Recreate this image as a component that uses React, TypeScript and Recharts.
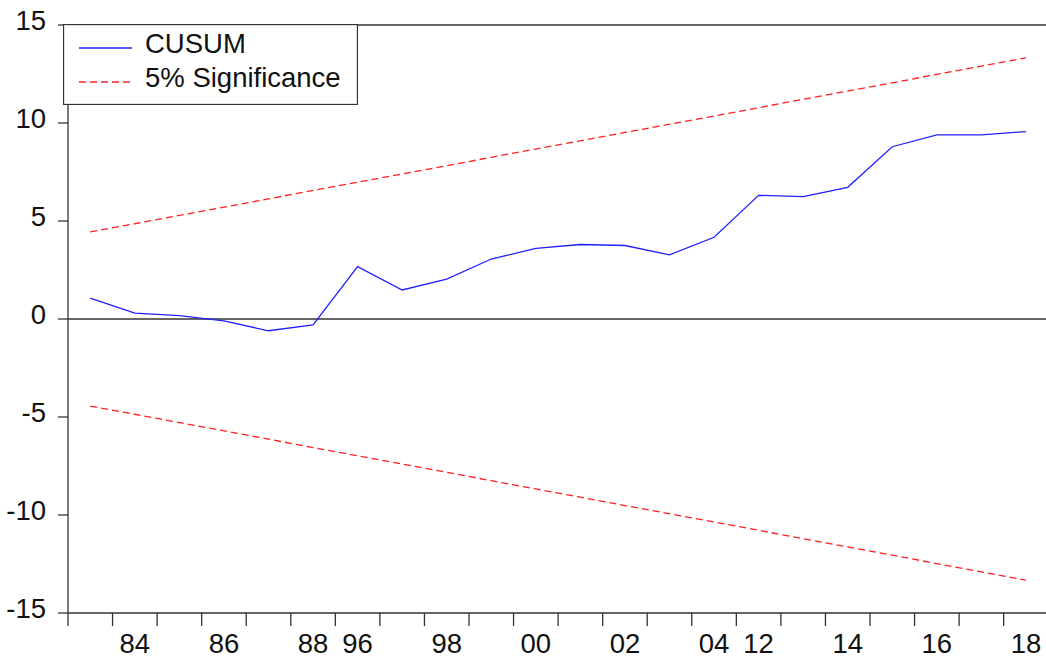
import { LineChart, Line, XAxis, YAxis, ReferenceLine, Legend } from 'recharts';

const years = ['83', '84', '85', '86', '87', '88', '96', '97', '98', '99', '00', '01', '02', '03', '04', '12', '13', '14', '15', '16', '17', '18'];
const cusum = [1.07, 0.3, 0.17, -0.1, -0.6, -0.3, 2.67, 1.48, 2.04, 3.06, 3.6, 3.8, 3.75, 3.27, 4.17, 6.31, 6.24, 6.72, 8.79, 9.39, 9.39, 9.56];
const upper = [4.44, 4.86, 5.29, 5.71, 6.13, 6.56, 6.98, 7.4, 7.82, 8.25, 8.67, 9.09, 9.52, 9.94, 10.36, 10.78, 11.21, 11.63, 12.05, 12.48, 12.9, 13.32];
const lower = [-4.44, -4.86, -5.29, -5.71, -6.13, -6.56, -6.98, -7.4, -7.82, -8.25, -8.67, -9.09, -9.52, -9.94, -10.36, -10.78, -11.21, -11.63, -12.05, -12.48, -12.9, -13.32];
const labelYears = ['84', '86', '88', '96', '98', '00', '02', '04', '12', '14', '16', '18'];
const yTicks = [-15, -10, -5, 0, 5, 10, 15];

const data = years.map((y, i) => ({ i, year: y, cusum: cusum[i], upper: upper[i], lower: lower[i] }));
const labelIdx = labelYears.map(y => years.indexOf(y));
const boundaries = years.map((_, i) => i - 0.5);
const xTicks = [...boundaries, ...labelIdx];

const FONT = '"Liberation Sans", Arial, sans-serif';
const FS = 27.5;
const AXIS = '#333';
const BLUE = '#2020ff';
const RED = '#ff2020';

function XTick(props: any) {
  const { x, y, payload } = props;
  const v = payload.value;
  if (!Number.isInteger(v)) {
    return <line x1={x} x2={x} y1={y} y2={y + 13} stroke={AXIS} strokeWidth={1.3} />;
  }
  return (
    <text x={x} y={y + 30} textAnchor="middle" dominantBaseline="central" fontSize={FS} fontFamily={FONT} fill="#111">
      {years[v]}
    </text>
  );
}

function YTick(props: any) {
  const { x, y, payload } = props;
  return (
    <text x={x} y={y - 5} textAnchor="end" dominantBaseline="central" fontSize={FS} fontFamily={FONT} fill="#111">
      {payload.value}
    </text>
  );
}

function LegendBox() {
  return (
    <svg width={295} height={81} style={{ display: 'block' }}>
      <rect x={0.5} y={0.5} width={294} height={80} fill="#fff" stroke={AXIS} strokeWidth={1.3} />
      <line x1={16} x2={69} y1={24} y2={24} stroke={BLUE} strokeWidth={1.3} />
      <text x={82} y={19} dominantBaseline="central" fontSize={FS} fontFamily={FONT} fill="#111">CUSUM</text>
      <line x1={16} x2={69} y1={58} y2={58} stroke={RED} strokeWidth={1.3} strokeDasharray="7 4" />
      <text x={82} y={53} dominantBaseline="central" fontSize={FS} fontFamily={FONT} fill="#111">5% Significance</text>
    </svg>
  );
}

export default function App() {
  return (
    <div style={{ position: 'absolute', left: 0, top: 0, width: 1046, height: 659, overflow: 'hidden', background: '#fff' }}>
      <LineChart width={1046} height={659} data={data} margin={{ top: 25, right: 0, left: 8, bottom: 0 }}>
        <XAxis
          dataKey="i"
          type="number"
          domain={[-0.5, 21.45]}
          allowDataOverflow
          ticks={xTicks}
          interval={0}
          tick={<XTick />}
          tickLine={false}
          tickSize={0}
          tickMargin={0}
          height={46}
          axisLine={{ stroke: AXIS, strokeWidth: 1.3 }}
        />
        <YAxis
          type="number"
          domain={[-15, 15]}
          ticks={yTicks}
          interval={0}
          width={60}
          tick={<YTick />}
          tickSize={10}
          tickMargin={12}
          tickLine={{ stroke: AXIS, strokeWidth: 1.3 }}
          axisLine={{ stroke: AXIS, strokeWidth: 1.3 }}
        />
        <ReferenceLine y={0} stroke={AXIS} strokeWidth={1.3} />
        <ReferenceLine y={15} stroke={AXIS} strokeWidth={1.3} />
        <Legend
          layout="horizontal"
          verticalAlign="middle"
          align="center"
          content={<LegendBox />}
          wrapperStyle={{ left: 63, top: 24, width: 295, height: 81 }}
        />
        <Line dataKey="upper" stroke={RED} strokeWidth={1.3} strokeDasharray="7 4" dot={false} isAnimationActive={false} />
        <Line dataKey="lower" stroke={RED} strokeWidth={1.3} strokeDasharray="7 4" dot={false} isAnimationActive={false} />
        <Line dataKey="cusum" stroke={BLUE} strokeWidth={1.3} dot={false} isAnimationActive={false} />
      </LineChart>
    </div>
  );
}
